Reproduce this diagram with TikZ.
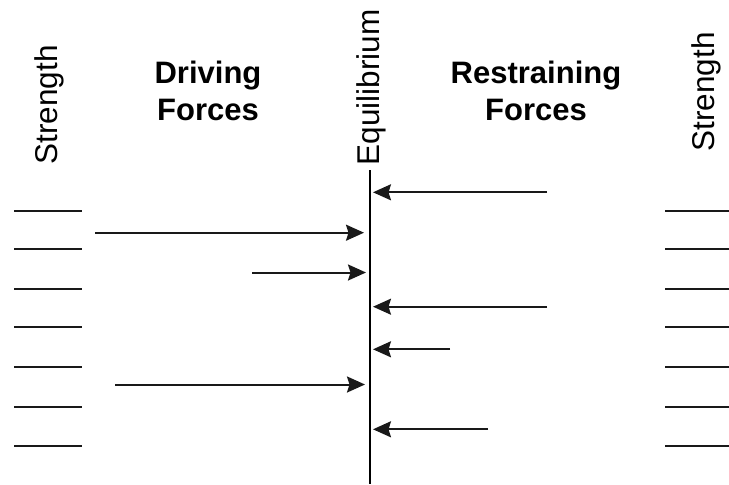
\documentclass[tikz,border=0pt]{standalone}
\usepackage{fontspec}
\setmainfont{Liberation Sans}
\usetikzlibrary{arrows.meta}
\begin{document}
\begin{tikzpicture}[x=1pt,y=-1pt,
  heading/.style={font=\fontsize{31}{37}\selectfont\bfseries,align=center,inner sep=0pt},
  sidelabel/.style={font=\fontsize{31.5}{36}\selectfont,rotate=90,inner sep=0pt},
  tick/.style={line width=2pt,draw=black!90},
  force/.style={line width=2pt,draw=black!90,-{Stealth[length=18pt,width=16pt,inset=2.5pt]}},
  axis/.style={line width=2pt}]
\useasboundingbox (0,0) rectangle (729,485);

% headings
\node[heading] (driving) at (208,91) {Driving\\Forces};
\node[heading] (restraining) at (536,91) {Restraining\\Forces};
\node[sidelabel] (strL) at (49.5,105) {Strength};
\node[sidelabel] (strR) at (706.5,92) {Strength};
\node[sidelabel] (equi) at (371.5,87.5) {Equilibrium};

% equilibrium line
\coordinate (eqtop) at (369.5,170);
\coordinate (eqbot) at (369.5,484);
\draw[axis] (eqtop) -- (eqbot);

% strength scales
\foreach \y [count=\i] in {210.7,249,289,327,367,407.3,445.7}{
  \coordinate (tl\i a) at (14,\y);
  \coordinate (tl\i b) at (82,\y);
  \coordinate (tr\i a) at (665,\y);
  \coordinate (tr\i b) at (729,\y);
  \draw[tick] (tl\i a) -- (tl\i b);
  \draw[tick] (tr\i a) -- (tr\i b);
}

% driving forces
\coordinate (d1s) at (95,232.7);  \coordinate (d1e) at (364,232.7);
\coordinate (d2s) at (252,272.5); \coordinate (d2e) at (366,272.5);
\coordinate (d3s) at (115,384.5); \coordinate (d3e) at (365,384.5);
\draw[force] (d1s) -- (d1e);
\draw[force] (d2s) -- (d2e);
\draw[force] (d3s) -- (d3e);

% restraining forces
\coordinate (r1s) at (547,192.3); \coordinate (r1e) at (373,192.3);
\coordinate (r2s) at (547,306.7); \coordinate (r2e) at (373,306.7);
\coordinate (r3s) at (450,349.3); \coordinate (r3e) at (373,349.3);
\coordinate (r4s) at (488,429.3); \coordinate (r4e) at (373,429.3);
\draw[force] (r1s) -- (r1e);
\draw[force] (r2s) -- (r2e);
\draw[force] (r3s) -- (r3e);
\draw[force] (r4s) -- (r4e);
\end{tikzpicture}
\end{document}
